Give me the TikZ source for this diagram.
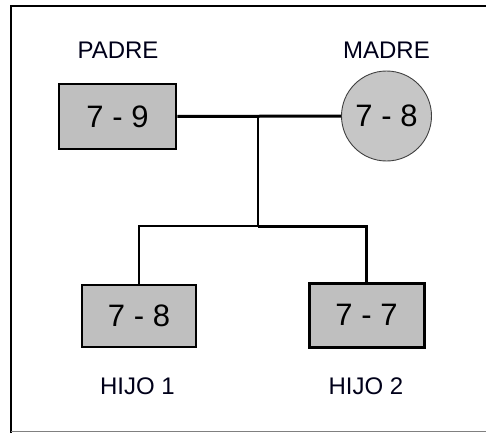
\documentclass[tikz,border=0pt]{standalone}
\usepackage{fontspec}
\setmainfont{Liberation Sans}
\begin{document}
\begin{tikzpicture}[x=1pt,y=-1pt,
  person/.style={draw=black,fill=gray!50,line width=2.6pt,inner sep=0pt,
    font=\fontsize{31}{34}\selectfont},
  woman/.style={circle,draw=black!75,fill=gray!45,line width=0.9pt,inner sep=0pt,
    minimum size=90pt,font=\fontsize{31}{34}\selectfont},
  caption/.style={font=\fontsize{24}{28}\selectfont,text=black!90!blue},
  link/.style={draw=black,line width=2.2pt},
  boldlink/.style={draw=black,line width=3pt}]
\useasboundingbox (0,0) rectangle (486,433);
% open frame: top, left and a faint bottom edge
\draw[line width=2.6pt] (486,6) -- (11,6) -- (11,433);
\draw[gray,line width=1pt] (11,431.5) -- (486,431.5);

% parents
\node[caption] (lp) at (118,50) {PADRE};
\node[caption] (lm) at (386.5,50) {MADRE};
\node[person,minimum width=117pt,minimum height=65pt] (padre) at (117.5,116.5) {7 - 9};
\node[woman] (madre) at (386.5,116) {7 - 8};

% children
\node[person,line width=2.4pt,minimum width=114pt,minimum height=62pt] (h1) at (139,316) {7 - 8};
\node[person,line width=3pt,minimum width=115pt,minimum height=64pt] (h2) at (366.5,315) {7 - 7};
\node[caption] (l1) at (137.5,386) {HIJO 1};
\node[caption] (l2) at (366,386) {HIJO 2};

% connectors
\coordinate (union) at (258,116);
\coordinate (split) at (258,226);
\draw[boldlink] (padre.east) -- (madre.west);
\draw[link] (union) -- (split);
\draw[link] (split) -| (h1.north);
\draw[boldlink] (split) -| (h2.north);
\end{tikzpicture}
\end{document}
